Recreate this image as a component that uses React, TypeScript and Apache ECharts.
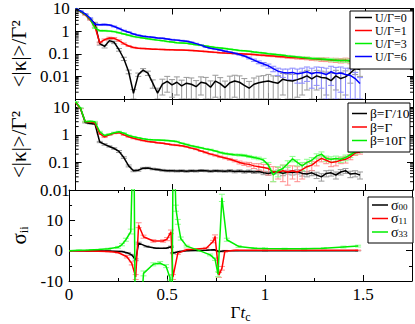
import React, { useEffect, useRef } from 'react';
import * as echarts from 'echarts';

const FONT = "'Liberation Serif', 'Times New Roman', Times, serif";

// time grid shared by panels 1 and 2
const times = [0, 0.025, 0.05, 0.075, 0.1, 0.125, 0.15, 0.175, 0.2, 0.225, 0.25, 0.275, 0.3, 0.325, 0.35, 0.375, 0.4, 0.425, 0.45, 0.475, 0.5, 0.525, 0.55, 0.575, 0.6, 0.625, 0.65, 0.675, 0.7, 0.725, 0.75, 0.775, 0.8, 0.825, 0.85, 0.875, 0.9, 0.925, 0.95, 0.975, 1.0, 1.025, 1.05, 1.075, 1.1, 1.125, 1.15, 1.175, 1.2, 1.225, 1.25, 1.275, 1.3, 1.325, 1.35, 1.375, 1.4, 1.425, 1.45, 1.475];

// Panel 1: <|kappa|>/Gamma^2 for U/Gamma = 0, 1, 3, 6
const p1U0 = [10, 7.3, 5.4, 3.2, 2.2, 0.28, 0.21, 0.38, 0.32, 0.15, 0.06, 0.016, 0.0018, 0.012, 0.019, 0.014, 0.005, 0.0018,
  0.0045, 0.006, 0.0042, 0.0055, 0.0038, 0.005, 0.0045, 0.0035, 0.0055, 0.005, 0.0033, 0.0062, 0.0048, 0.0032, 0.0052, 0.0062, 0.0055, 0.004, 0.003, 0.0045, 0.0052, 0.0058, 0.0062, 0.0055, 0.005, 0.0075, 0.0065, 0.0063, 0.0072, 0.0085, 0.0105, 0.0078, 0.0105, 0.009, 0.0085, 0.0065, 0.0105, 0.008, 0.0095, 0.014, 0.022, 0.02];
const p1U0Err = [0, 0, 0, 0, 0.25, 0.04, 0.03, 0.05, 0.04, 0.02, 0.01, 0.003, 0.0008, 0.002, 0.003, 0.003, 0.002, 0.0012,
  0.003, 0.004, 0.003, 0.004, 0.003, 0.004, 0.004, 0.003, 0.004, 0.004, 0.003, 0.005, 0.004, 0.003, 0.005, 0.005, 0.005, 0.004, 0.003, 0.004, 0.005, 0.005, 0.006, 0.005, 0.005, 0.006, 0.006, 0.006, 0.006, 0.007, 0.008, 0.007, 0.008, 0.008, 0.007, 0.007, 0.008, 0.007, 0.008, 0.009, 0.01, 0.01];
const p1U1 = [10, 7.3, 5.2, 3.2, 1.6, 0.3, 0.42, 0.5, 0.48, 0.38, 0.28, 0.22, 0.19, 0.175, 0.17, 0.165, 0.16, 0.157, 0.155, 0.152, 0.15, 0.147, 0.145, 0.143, 0.14, 0.135, 0.13, 0.125, 0.12, 0.115, 0.11, 0.107, 0.105, 0.102, 0.1, 0.098, 0.095, 0.092, 0.088, 0.085, 0.082, 0.079, 0.076, 0.073, 0.07, 0.068, 0.066, 0.064, 0.062, 0.06, 0.058, 0.056, 0.055, 0.053, 0.052, 0.05, 0.052, 0.048, 0.05, 0.046];
const p1U1Err = [0, 0, 0, 0, 0.15, 0.03, 0.03, 0.04, 0.04, 0.03, 0.02, 0.01, 0.008, 0.006, 0.005, 0.005, 0.004, 0.004, 0.004, 0.004, 0.004, 0.004, 0.004, 0.004, 0.004, 0.004, 0.004, 0.004, 0.004, 0.004, 0.004, 0.004, 0.004, 0.004, 0.004, 0.004, 0.004, 0.004, 0.005, 0.005, 0.005, 0.005, 0.006, 0.006, 0.007, 0.007, 0.008, 0.008, 0.008, 0.009, 0.009, 0.01, 0.01, 0.01, 0.011, 0.011, 0.012, 0.012, 0.013, 0.013];
const p1U3 = [10, 7.5, 5.5, 3.5, 1.4, 1.05, 1.05, 1.0, 0.95, 0.85, 0.75, 0.66, 0.58, 0.53, 0.5, 0.46, 0.43, 0.4, 0.38, 0.35, 0.33, 0.31, 0.3, 0.29, 0.27, 0.25, 0.235, 0.22, 0.205, 0.19, 0.18, 0.17, 0.16, 0.15, 0.14, 0.135, 0.128, 0.12, 0.113, 0.107, 0.1, 0.095, 0.09, 0.085, 0.08, 0.076, 0.072, 0.068, 0.065, 0.062, 0.06, 0.058, 0.056, 0.054, 0.052, 0.05, 0.05, 0.048, 0.055, 0.06];
const p1U3Err = [0, 0, 0, 0, 0.1, 0.05, 0.05, 0.05, 0.04, 0.04, 0.03, 0.03, 0.02, 0.02, 0.02, 0.015, 0.015, 0.01, 0.01, 0.01, 0.01, 0.01, 0.008, 0.008, 0.008, 0.008, 0.007, 0.007, 0.006, 0.006, 0.006, 0.006, 0.005, 0.005, 0.005, 0.005, 0.005, 0.005, 0.005, 0.005, 0.005, 0.005, 0.005, 0.005, 0.005, 0.005, 0.005, 0.005, 0.006, 0.006, 0.006, 0.006, 0.006, 0.007, 0.007, 0.007, 0.008, 0.008, 0.008, 0.009];
const p1U6 = [10, 7.8, 5.8, 3.8, 2.0, 1.9, 1.95, 1.85, 1.6, 1.3, 1.05, 0.9, 0.75, 0.65, 0.6, 0.56, 0.53, 0.5, 0.48, 0.45, 0.42, 0.4, 0.38, 0.36, 0.32, 0.28, 0.24, 0.2, 0.175, 0.16, 0.145, 0.13, 0.118, 0.105, 0.093, 0.08, 0.065, 0.052, 0.042, 0.035, 0.029, 0.022, 0.017, 0.015, 0.014, 0.015, 0.013, 0.014, 0.016, 0.013, 0.015, 0.014, 0.012, 0.016, 0.013, 0.014, 0.012, 0.011, 0.008, 0.0048];
const p1U6Err = [0, 0, 0, 0, 0.1, 0.1, 0.1, 0.1, 0.08, 0.06, 0.05, 0.04, 0.03, 0.03, 0.02, 0.02, 0.02, 0.02, 0.02, 0.015, 0.015, 0.015, 0.015, 0.012, 0.012, 0.01, 0.01, 0.01, 0.008, 0.008, 0.007, 0.007, 0.006, 0.006, 0.006, 0.006, 0.006, 0.006, 0.006, 0.006, 0.006, 0.006, 0.006, 0.006, 0.007, 0.008, 0.008, 0.009, 0.01, 0.01, 0.011, 0.011, 0.011, 0.012, 0.012, 0.012, 0.011, 0.01, 0.007, 0.004];

// Panel 2: beta = Gamma/10, Gamma, 10 Gamma
const p2B01 = [15, 9, 2.8, 2.6, 2.5, 0.55, 0.45, 0.38, 0.32, 0.25, 0.15, 0.075, 0.05, 0.052, 0.062, 0.063, 0.058, 0.055, 0.052, 0.05, 0.05, 0.049, 0.05, 0.048, 0.05, 0.049, 0.051, 0.05, 0.048, 0.05, 0.049, 0.048, 0.05, 0.047, 0.049, 0.046, 0.048, 0.045, 0.047, 0.042, 0.04, 0.044, 0.046, 0.04, 0.045, 0.043, 0.046, 0.04, 0.038, 0.042, 0.035, 0.03, 0.04, 0.042, 0.035, 0.045, 0.05, 0.038, 0.04, 0.035];
const p2B01Err = [0, 0, 0.1, 0.1, 0.1, 0.03, 0.03, 0.02, 0.02, 0.02, 0.01, 0.006, 0.004, 0.004, 0.004, 0.004, 0.004, 0.004, 0.004, 0.004, 0.004, 0.004, 0.004, 0.004, 0.004, 0.004, 0.004, 0.004, 0.004, 0.004, 0.004, 0.004, 0.005, 0.005, 0.005, 0.005, 0.005, 0.005, 0.006, 0.006, 0.006, 0.006, 0.007, 0.007, 0.007, 0.008, 0.008, 0.008, 0.008, 0.009, 0.009, 0.009, 0.01, 0.01, 0.01, 0.01, 0.01, 0.01, 0.01, 0.01];
const p2B1 = [15, 9, 3.0, 2.9, 2.7, 1.1, 0.85, 1.0, 1.15, 1.2, 1.0, 0.85, 0.75, 0.68, 0.62, 0.58, 0.55, 0.52, 0.5, 0.47, 0.44, 0.42, 0.4, 0.37, 0.33, 0.3, 0.26, 0.23, 0.2, 0.18, 0.16, 0.145, 0.13, 0.115, 0.1, 0.09, 0.085, 0.075, 0.07, 0.065, 0.06, 0.045, 0.045, 0.05, 0.045, 0.05, 0.045, 0.055, 0.07, 0.08, 0.11, 0.14, 0.12, 0.1, 0.105, 0.12, 0.13, 0.16, 0.22, 0.24];
const p2B1Err = [0, 0, 0.1, 0.1, 0.1, 0.05, 0.05, 0.05, 0.05, 0.05, 0.04, 0.03, 0.03, 0.02, 0.02, 0.02, 0.02, 0.02, 0.015, 0.015, 0.015, 0.015, 0.012, 0.012, 0.012, 0.01, 0.01, 0.01, 0.01, 0.01, 0.01, 0.01, 0.01, 0.01, 0.012, 0.012, 0.015, 0.015, 0.02, 0.02, 0.025, 0.025, 0.02, 0.03, 0.03, 0.025, 0.025, 0.03, 0.03, 0.03, 0.035, 0.035, 0.03, 0.03, 0.03, 0.03, 0.035, 0.035, 0.04, 0.04];
const p2B10 = [16, 9.5, 3.0, 3.1, 3.0, 1.3, 0.95, 1.05, 1.2, 1.3, 1.15, 0.95, 0.85, 0.78, 0.72, 0.68, 0.66, 0.65, 0.64, 0.62, 0.6, 0.57, 0.5, 0.45, 0.4, 0.37, 0.34, 0.31, 0.29, 0.26, 0.23, 0.21, 0.2, 0.19, 0.185, 0.18, 0.165, 0.15, 0.14, 0.12, 0.08, 0.035, 0.05, 0.06, 0.09, 0.135, 0.1, 0.075, 0.1, 0.12, 0.17, 0.2, 0.14, 0.13, 0.14, 0.13, 0.15, 0.19, 0.24, 0.28];
const p2B10Err = [0, 0, 0.1, 0.1, 0.1, 0.05, 0.05, 0.05, 0.05, 0.05, 0.04, 0.03, 0.03, 0.02, 0.02, 0.02, 0.02, 0.02, 0.02, 0.02, 0.02, 0.02, 0.015, 0.015, 0.015, 0.015, 0.012, 0.012, 0.012, 0.012, 0.012, 0.012, 0.012, 0.012, 0.015, 0.015, 0.015, 0.015, 0.015, 0.02, 0.02, 0.015, 0.02, 0.02, 0.025, 0.03, 0.025, 0.025, 0.03, 0.03, 0.035, 0.04, 0.03, 0.03, 0.03, 0.03, 0.035, 0.04, 0.045, 0.05];

// Panel 3: sigma_ii
const s00T = [0, 0.2, 0.27, 0.3, 0.32, 0.34, 0.355, 0.395, 0.445, 0.495, 0.52, 0.53, 0.565, 0.6, 0.7, 0.74, 0.765, 0.8, 1.0, 1.475];
const s00V = [0, -0.1, -0.3, -0.8, -1.4, -3, 2.5, 1.4, 0.8, 0.8, 1.3, -0.8, -0.3, 0, 0.1, 0.3, -0.3, 0, 0, 0];
const s00E = [0, 0.05, 0.1, 0.2, 0.2, 0.3, 0.3, 0.2, 0.1, 0.1, 0.2, 0.2, 0.1, 0.05, 0.05, 0.1, 0.1, 0.05, 0.05, 0.05];
const s11T = [0, 0.1, 0.2, 0.25, 0.295, 0.32, 0.34, 0.355, 0.38, 0.43, 0.48, 0.5, 0.52, 0.53, 0.555, 0.6, 0.7, 0.735, 0.745, 0.765, 0.78, 0.795, 0.85, 1.0, 1.2, 1.475];
const s11V = [0, -0.1, -0.3, -0.6, -2, -4.2, -8.7, 8.4, 4.6, 3.2, 3.2, 3.8, 6.2, -8.7, -0.8, 0.3, 0.8, 3, 4.7, -8, -5.8, -0.2, 0.1, 0.1, 0.1, 0.1];
const s11E = [0, 0.1, 0.1, 0.2, 0.4, 0.5, 0.8, 0.8, 0.5, 0.4, 0.4, 0.5, 0.6, 0.8, 0.4, 0.2, 0.3, 0.4, 0.5, 0.8, 0.6, 0.3, 0.1, 0.1, 0.1, 0.1];
const s33T = [0, 0.05, 0.1, 0.15, 0.2, 0.25, 0.27, 0.29, 0.315, 0.33, 0.34, 0.38, 0.43, 0.465, 0.495, 0.515, 0.523, 0.532, 0.545, 0.555, 0.57, 0.6, 0.665, 0.72, 0.745, 0.76, 0.78, 0.805, 0.865, 0.945, 1.0, 1.1, 1.2, 1.3, 1.4, 1.475];
const s33V = [0, 0.1, 0.2, 0.35, 0.6, 1.1, 2.0, 3.6, 6.3, 45, -45, -7.5, -4.5, -4.1, -5.1, -8.9, -45, 45, 14, 9.5, 4, 1.5, 0, -1.4, -2.8, -7.8, 17.4, 3.6, 1.4, 0.8, 0.7, 0.6, 0.6, 0.8, 1.2, 1.5];
const s33E = [0, 0.1, 0.1, 0.1, 0.2, 0.3, 0.4, 0.5, 0.8, 0, 0, 0.8, 0.5, 0.5, 0.5, 0.8, 0, 0, 1, 0.8, 0.5, 0.3, 0.2, 0.3, 0.4, 0.8, 1.2, 0.5, 0.3, 0.2, 0.2, 0.2, 0.2, 0.2, 0.3, 0.3];

// axes
const X_MIN = 0;
const X_MAX = 1.75;
const xTickLabels = [0, 0.5, 1, 1.5];
const p1Range = [0.001, 10];
const p1TickLabels = [0.01, 0.1, 1, 10];
const p2Range = [0.01, 20];
const p2TickLabels = [0.01, 0.1, 1, 10];
const p3Range = [-10, 20];
const p3TickLabels = [-10, 0, 10];

// legends
const legend1Labels = ['U/Γ=0', 'U/Γ=1', 'U/Γ=3', 'U/Γ=6'];
const legend2Labels = ['β=Γ/10', 'β=Γ', 'β=10Γ'];
const legend3Labels = ['σ{sub|00}', 'σ{sub|11}', 'σ{sub|33}'];

const BLACK = '#000000';
const RED = '#ff0000';
const GREEN = '#00ee00';
const BLUE = '#0000ff';
const EB = { [BLACK]: '#9a9a9a', [RED]: '#ff8c8c', [GREEN]: '#8cff8c', [BLUE]: '#8c8cff' } as Record<string, string>;

function logMinor(lo: number, hi: number) {
  const out: number[] = [];
  for (let e = Math.floor(Math.log10(lo)); e <= Math.ceil(Math.log10(hi)); e++) {
    for (let m = 2; m <= 9; m++) {
      const v = m * Math.pow(10, e);
      if (v > lo * 1.0001 && v < hi * 0.9999) out.push(v);
    }
  }
  return out;
}

function labelFmt(labels: number[], log: boolean) {
  return (v: number) => {
    const hit = labels.find((l) => (log ? Math.abs(Math.log10(v) - Math.log10(l)) < 1e-6 : Math.abs(v - l) < 1e-9));
    return hit === undefined ? '' : String(hit);
  };
}

export default function App() {
  const ref = useRef<HTMLDivElement>(null);
  useEffect(() => {
    if (!ref.current) return;
    const chart = echarts.init(ref.current, null, { renderer: 'svg' });

    const grids = [
      { left: 64, top: 8, width: 349, height: 91 },
      { left: 64, top: 99, width: 349, height: 91 },
      { left: 64, top: 190, width: 349, height: 91 },
    ];

    const tickLine = { lineStyle: { color: '#000', width: 1 } };
    const xAxes: any[] = [];
    const yAxes: any[] = [];
    for (let g = 0; g < 3; g++) {
      for (const pos of ['bottom', 'top']) {
        const bottomLabels = g === 2 && pos === 'bottom';
        xAxes.push({
          type: 'value', gridIndex: g, position: pos, min: X_MIN, max: X_MAX, interval: 0.5,
          axisLine: { show: true, onZero: false, ...tickLine },
          axisTick: { show: true, inside: true, length: 6, ...tickLine },
          minorTick: { show: true, splitNumber: 2, length: 3, ...tickLine },
          splitLine: { show: false }, minorSplitLine: { show: false },
          axisLabel: { show: bottomLabels, formatter: labelFmt(xTickLabels, false), margin: 5, fontFamily: FONT, fontSize: 17, color: '#000', hideOverlap: false },
          name: bottomLabels ? '{g|Γ}{t|t}{sub|c}' : '',
          nameLocation: 'middle', nameGap: 17,
          nameTextStyle: {
            fontFamily: FONT, fontSize: 17, color: '#000',
            rich: {
              g: { fontFamily: FONT, fontSize: 17, color: '#000' },
              t: { fontFamily: FONT, fontSize: 17, fontStyle: 'italic', color: '#000' },
              sub: { fontFamily: FONT, fontSize: 12, color: '#000', padding: [9, 0, 0, 0] },
            },
          },
        });
      }
      const isLog = g < 2;
      const range = g === 0 ? p1Range : g === 1 ? p2Range : p3Range;
      const labels = g === 0 ? p1TickLabels : g === 1 ? p2TickLabels : p3TickLabels;
      for (const pos of ['left', 'right']) {
        const left = pos === 'left';
        yAxes.push({
          type: isLog ? 'log' : 'value', logBase: 10, gridIndex: g, position: pos,
          min: range[0], max: range[1], ...(isLog ? {} : { interval: 10 }),
          axisLine: { show: true, onZero: false, ...tickLine },
          axisTick: { show: true, inside: true, length: 6, ...tickLine },
          minorTick: { show: !isLog, splitNumber: 2, length: 3, ...tickLine },
          splitLine: { show: false }, minorSplitLine: { show: false },
          axisLabel: { show: left, formatter: labelFmt(labels, isLog), margin: 6, fontFamily: FONT, fontSize: 17, color: '#000', hideOverlap: false, showMinLabel: true, showMaxLabel: true },
          name: left ? (isLog ? '<|κ|>/Γ²' : '{s|σ}{sub|ii}') : '',
          nameLocation: 'middle', nameRotate: 90, nameGap: isLog ? 39 : 38,
          nameTextStyle: {
            fontFamily: FONT, fontSize: 21, color: '#000',
            rich: {
              s: { fontFamily: FONT, fontSize: 21, color: '#000' },
              sub: { fontFamily: FONT, fontSize: 12, color: '#000', padding: [10, 0, 0, 0] },
            },
          },
        });
      }
    }

    const series: any[] = [];
    const addSet = (g: number, name: string, ts: number[], vs: number[], es: number[], color: string, lo: number, hi: number) => {
      const ebData: number[][] = [];
      ts.forEach((t, i) => {
        const v = vs[i];
        if (v < lo || v > hi) return;
        ebData.push([t, Math.max(v - es[i], lo), Math.min(v + es[i], hi)]);
      });
      const ebColor = EB[color];
      series.push({
        type: 'custom', name: name + ' err', xAxisIndex: 2 * g, yAxisIndex: 2 * g, silent: true, z: 1,
        data: ebData, encode: { x: 0, y: [1, 2] }, clip: true,
        renderItem: (params: any, api: any) => {
          const t = api.value(0);
          const top = api.coord([t, api.value(2)]);
          const bot = api.coord([t, api.value(1)]);
          const hw = 3;
          const st = { stroke: ebColor, lineWidth: 1 };
          return {
            type: 'group', children: [
              { type: 'line', shape: { x1: top[0], y1: top[1], x2: bot[0], y2: bot[1] }, style: st },
              { type: 'line', shape: { x1: top[0] - hw, y1: top[1], x2: top[0] + hw, y2: top[1] }, style: st },
              { type: 'line', shape: { x1: bot[0] - hw, y1: bot[1], x2: bot[0] + hw, y2: bot[1] }, style: st },
            ],
          };
        },
      });
      series.push({
        type: 'line', name, xAxisIndex: 2 * g, yAxisIndex: 2 * g, z: 2,
        data: ts.map((t, i) => [t, vs[i]]), symbol: 'none', clip: true,
        lineStyle: { color, width: 1.5 }, itemStyle: { color },
      });
    };

    addSet(0, legend1Labels[0], times, p1U0, p1U0Err, BLACK, p1Range[0], p1Range[1]);
    addSet(0, legend1Labels[1], times, p1U1, p1U1Err, RED, p1Range[0], p1Range[1]);
    addSet(0, legend1Labels[2], times, p1U3, p1U3Err, GREEN, p1Range[0], p1Range[1]);
    addSet(0, legend1Labels[3], times, p1U6, p1U6Err, BLUE, p1Range[0], p1Range[1]);
    addSet(1, legend2Labels[0], times, p2B01, p2B01Err, BLACK, p2Range[0], p2Range[1]);
    addSet(1, legend2Labels[1], times, p2B1, p2B1Err, RED, p2Range[0], p2Range[1]);
    addSet(1, legend2Labels[2], times, p2B10, p2B10Err, GREEN, p2Range[0], p2Range[1]);
    addSet(2, 'σ00', s00T, s00V, s00E, BLACK, p3Range[0], p3Range[1]);
    addSet(2, 'σ11', s11T, s11V, s11E, RED, p3Range[0], p3Range[1]);
    addSet(2, 'σ33', s33T, s33V, s33E, GREEN, p3Range[0], p3Range[1]);

    // logarithmic minor ticks on both vertical sides
    [[0, p1Range], [1, p2Range]].forEach(([g, range]: any) => {
      series.push({
        type: 'custom', name: 'minor' + g, xAxisIndex: 2 * g, yAxisIndex: 2 * g, silent: true, z: 5,
        data: logMinor(range[0], range[1]).map((v) => [X_MIN, v]), encode: { x: 0, y: 1 },
        renderItem: (params: any, api: any) => {
          const v = api.value(1);
          const l = api.coord([X_MIN, v]);
          const r = api.coord([X_MAX, v]);
          const st = { stroke: '#000', lineWidth: 1 };
          return {
            type: 'group', children: [
              { type: 'line', shape: { x1: l[0], y1: l[1], x2: l[0] + 3, y2: l[1] }, style: st },
              { type: 'line', shape: { x1: r[0] - 3, y1: r[1], x2: r[0], y2: r[1] }, style: st },
            ],
          };
        },
      });
    });

    const legendGraphic = (box: number[], labels: string[], colors: string[], ys: number[], lx: number[], tx: number, fs: number, lh: number) => {
      const children: any[] = [
        { type: 'rect', shape: { x: box[0], y: box[1], width: box[2], height: box[3] }, style: { fill: '#fff', stroke: '#000', lineWidth: 1 }, z: 100 },
      ];
      labels.forEach((lab, i) => {
        children.push({ type: 'line', shape: { x1: lx[0], y1: ys[i], x2: lx[1], y2: ys[i] }, style: { stroke: colors[i], lineWidth: 1.5 }, z: 101 });
        children.push({
          type: 'text', x: tx, y: ys[i], z: 101,
          style: {
            text: lab, fontFamily: FONT, fontSize: fs, lineHeight: lh, fill: '#000', verticalAlign: 'middle', align: 'left',
            rich: { sub: { fontFamily: FONT, fontSize: 9, lineHeight: 9, fill: '#000', padding: [4, 0, 0, 0] } },
          },
        });
      });
      return { type: 'group', children };
    };

    chart.setOption({
      animation: false,
      backgroundColor: '#fff',
      grid: grids,
      xAxis: xAxes,
      yAxis: yAxes,
      series,
      graphic: [
        legendGraphic([350, 11, 63, 58], legend1Labels, [BLACK, RED, GREEN, BLUE], [17.5, 30.5, 43.5, 56.5], [355, 372], 375, 12, 12),
        legendGraphic([348, 103, 62, 49], legend2Labels, [BLACK, RED, GREEN], [113.5, 127, 140.5], [352, 367], 370, 13.5, 13),
        legendGraphic([368, 197, 45, 46], legend3Labels, [BLACK, RED, GREEN], [205, 218.5, 232], [372, 388], 391, 14, 13),
      ],
    });
    return () => chart.dispose();
  }, []);
  return <div ref={ref} style={{ position: 'fixed', left: 0, top: 0, width: 415, height: 324, background: '#fff' }} />;
}
